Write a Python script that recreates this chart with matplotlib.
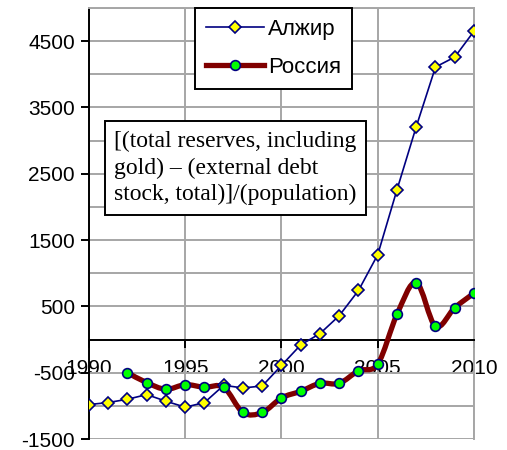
import matplotlib
matplotlib.use('Agg')
import matplotlib.pyplot as plt
import numpy as np
from matplotlib.path import Path
from matplotlib.patches import PathPatch
from matplotlib.lines import Line2D
from matplotlib.ticker import MultipleLocator

plt.rcParams['font.family'] = ['Liberation Sans', 'DejaVu Sans']
plt.rcParams['axes.unicode_minus'] = False

years_alg = list(range(1990, 2011))
alg_vals = [-980, -950, -900, -830, -930, -1020, -950, -690, -730, -700,
            -390, -80, 90, 360, 740, 1280, 2260, 3210, 4110, 4260, 4650]

years_rus = list(range(1992, 2011))
rus_vals = [-500, -650, -750, -680, -720, -720, -1100, -1100, -880, -780,
            -660, -660, -470, -370, 380, 860, 200, 480, 700]

ALG_LABEL = 'Алжир'
RUS_LABEL = 'Россия'
NOTE = '[(total reserves, including\ngold) \u2013 (external debt\nstock, total)]/(population)'

_NAVY = '#000080'
_MAROON = '#800000'


def _smooth_path(xs, ys):
    # Bezier curve through the points, like a spreadsheet "smoothed line"
    p = np.column_stack([xs, ys]).astype(float)
    n = len(p)
    verts = [p[0]]
    codes = [Path.MOVETO]
    for i in range(n - 1):
        prev = p[i - 1] if i > 0 else p[i]
        nxt = p[i + 2] if i + 2 < n else p[i + 1]
        c1 = p[i] + (p[i + 1] - prev) / 6.0
        c2 = p[i + 1] - (nxt - p[i]) / 6.0
        verts += [c1, c2, p[i + 1]]
        codes += [Path.CURVE4] * 3
    return Path(verts, codes)


fig = plt.figure(figsize=(5.07, 4.5), dpi=100)
ax = fig.add_axes([0.1755, 0.0244, 0.7594, 0.9578])

ax.set_xlim(1990, 2010)
ax.set_ylim(-1500, 5000)

ax.xaxis.set_major_locator(MultipleLocator(5))
ax.yaxis.set_major_locator(MultipleLocator(1000, offset=500))
ax.yaxis.set_minor_locator(MultipleLocator(500))
ax.grid(True, which='both', color='#a6a6a6', linewidth=1.4)

ax.spines['bottom'].set_position(('data', 0))
ax.spines['bottom'].set_color('black')
ax.spines['bottom'].set_linewidth(1.4)
ax.spines['left'].set_linewidth(1.4)
for s in ('top', 'right'):
    ax.spines[s].set_color('#a6a6a6')
    ax.spines[s].set_linewidth(1.4)

ax.tick_params(axis='y', which='major', direction='out', length=6, width=1.4,
               labelsize=15, pad=4)
ax.tick_params(axis='y', which='minor', length=0)
ax.tick_params(axis='x', direction='out', length=6, width=1.4,
               labelsize=15, pad=8)

# Algeria
ax.plot(years_alg, alg_vals, color=_NAVY, linewidth=1.2, marker='D',
        markersize=6.5, markerfacecolor='#ffff00', markeredgecolor=_NAVY,
        markeredgewidth=1.2, zorder=5)

# Russia
ax.add_patch(PathPatch(_smooth_path(years_rus, rus_vals), fill=False,
                       edgecolor=_MAROON, linewidth=3.8, zorder=4,
                       capstyle='round', joinstyle='round'))
ax.plot(years_rus, rus_vals, linestyle='none', marker='o', markersize=7,
        markerfacecolor='#00ff00', markeredgecolor=_NAVY,
        markeredgewidth=1.2, zorder=6)

handles = [
    Line2D([], [], color=_NAVY, linewidth=1.2, marker='D', markersize=6.5,
           markerfacecolor='#ffff00', markeredgecolor=_NAVY,
           markeredgewidth=1.2),
    Line2D([], [], color=_MAROON, linewidth=3.8, marker='o', markersize=7,
           markerfacecolor='#00ff00', markeredgecolor=_NAVY,
           markeredgewidth=1.2),
]
leg = ax.legend(handles, [ALG_LABEL, RUS_LABEL], loc='upper left',
                bbox_to_anchor=(0.275, 1.0), borderaxespad=0, fontsize=16,
                numpoints=1, fancybox=False, framealpha=1, edgecolor='black',
                handlelength=2.6, borderpad=0.5, labelspacing=0.75,
                handletextpad=0.2)
leg.get_frame().set_linewidth(1.4)
leg.set_zorder(10)

ax.text(0.065, 0.715, NOTE, transform=ax.transAxes, family='Liberation Serif',
        fontsize=17, va='top', ha='left', linespacing=1.34, zorder=10,
        bbox=dict(boxstyle='square,pad=0.4', facecolor='white',
                  edgecolor='black', linewidth=1.4))

fig.savefig('out.png', dpi=100)
